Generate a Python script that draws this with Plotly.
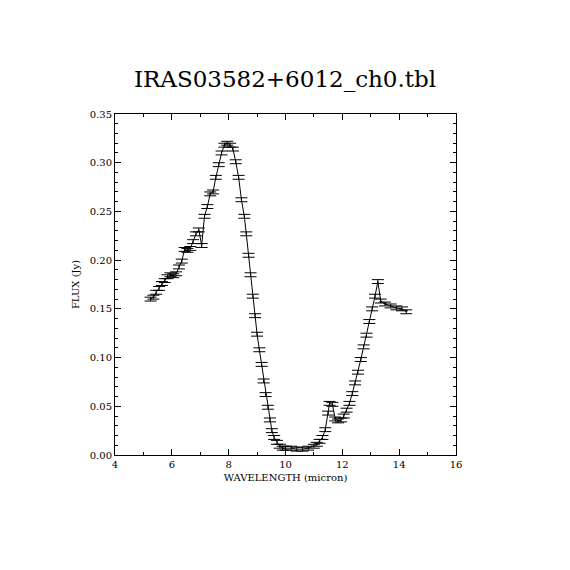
import plotly.graph_objects as go

wavelength = [5.25,5.35,5.45,5.55,5.65,5.75,5.85,5.95,6.05,6.15,6.25,6.35,6.45,6.55,6.65,6.75,6.85,6.95,7.05,7.15,7.25,7.35,7.45,7.55,7.65,7.75,7.85,7.95,8.05,8.15,8.25,
 8.35,8.45,8.55,8.62,8.7,8.77,8.85,8.93,9.0,9.08,9.16,9.23,9.3,9.38,9.45,9.52,9.6,9.7,9.8,9.9,10.0,10.2,10.4,10.6,10.8,11.0,11.1,11.2,11.3,11.4,11.5,11.55,11.65,11.75,11.85,11.95,
 12.05,12.15,12.25,12.35,12.45,12.55,12.65,12.75,12.85,12.95,13.05,13.15,13.25,13.35,13.5,13.7,13.9,14.1,14.25]
flux = [0.160,0.162,0.167,0.171,0.176,0.179,0.183,0.185,0.184,0.186,0.193,0.199,0.211,0.210,0.212,0.219,0.227,0.231,0.215,0.245,0.255,0.268,0.270,0.285,0.298,0.310,0.318,0.320,0.318,0.314,0.301,
 0.285,0.262,0.245,0.227,0.205,0.185,0.163,0.143,0.124,0.108,0.093,0.076,0.062,0.049,0.036,0.025,0.018,0.013,0.009,0.007,0.007,0.007,0.006,0.006,0.007,0.009,0.011,0.014,0.018,0.026,0.043,0.053,0.052,0.037,0.035,0.036,
 0.040,0.046,0.053,0.063,0.074,0.085,0.098,0.111,0.123,0.137,0.150,0.163,0.178,0.158,0.155,0.153,0.151,0.150,0.147]
flux_err = [0.002]*len(flux)

font = "DejaVu Serif"
fig = go.Figure(go.Scatter(
    x=wavelength, y=flux, mode="lines",
    line=dict(color="black", width=1),
    error_y=dict(type="data", array=flux_err, color="black", thickness=1, width=6),
))
axis = dict(showline=True, linecolor="black", linewidth=1, mirror="allticks", ticks="inside",
            ticklen=6, tickcolor="black", showgrid=False, zeroline=False,
            minor=dict(ticks="inside", ticklen=3, tickcolor="black"),
            tickfont=dict(family=font, size=10, color="black"))
fig.update_layout(
    width=570, height=570, paper_bgcolor="white", plot_bgcolor="white",
    margin=dict(l=107, r=122, t=106, b=123),
    showlegend=False,
    title=dict(text="IRAS03582+6012_ch0.tbl", x=0.486, xanchor="center", y=0.875, yanchor="middle",
               font=dict(family=font, size=23, color="black")),
    xaxis=dict(axis, range=[4, 16], tickvals=[4,6,8,10,12,14,16], minor=dict(axis["minor"], dtick=1),
               title=dict(text="WAVELENGTH (micron)", standoff=4, font=dict(family=font, size=10, color="black"))),
    yaxis=dict(axis, range=[0, 0.35], dtick=0.05, tickformat=".2f", minor=dict(axis["minor"], dtick=0.01),
               title=dict(text="FLUX (Jy)", standoff=8, font=dict(family=font, size=10, color="black"))),
)
fig.write_html("out.html")
